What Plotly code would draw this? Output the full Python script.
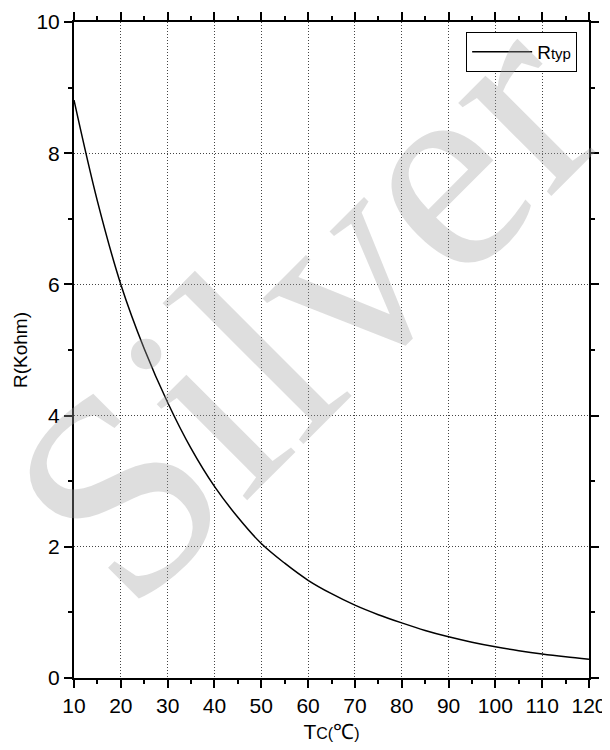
import plotly.graph_objects as go

temps = [10, 15, 20, 25, 30, 35, 40, 45, 50, 55, 60, 65, 70, 75, 80, 85, 90, 95, 100, 105, 110, 115, 120]
r_typ = [8.81, 7.27, 6.00, 5.02, 4.20, 3.50, 2.92, 2.45, 2.05, 1.75, 1.49, 1.285, 1.11, 0.965,
         0.84, 0.725, 0.628, 0.546, 0.476, 0.417, 0.366, 0.323, 0.286]
x_ticks = [10, 20, 30, 40, 50, 60, 70, 80, 90, 100, 110, 120]
y_ticks = [0, 2, 4, 6, 8, 10]

FONT = "Liberation Sans, Arial, sans-serif"

fig = go.Figure()
fig.add_trace(go.Scatter(
    x=temps, y=r_typ, mode="lines", name="R<span style='font-size:15px'>typ</span>",
    line=dict(color="black", width=1.5, shape="spline"),
))

axis_common = dict(
    automargin=False,
    showline=True, linecolor="black", linewidth=2, mirror="ticks",
    ticks="outside", ticklen=8, tickwidth=2, tickcolor="black",
    showgrid=True, gridcolor="#444444", griddash="1px,2px", gridwidth=1,
    zeroline=False,
    tickfont=dict(family=FONT, size=21, color="black"),
)

fig.update_xaxes(
    range=[10, 120], tickvals=x_ticks,
    minor=dict(dtick=5, ticks="outside", ticklen=4, tickwidth=1.5, tickcolor="black", showgrid=False),
    title=dict(text="T<span style='font-size:16px'>C(</span>℃<span style='font-size:16px'>)</span>",
               font=dict(family=FONT, size=21, color="black"), standoff=8),
    **axis_common,
)
fig.update_yaxes(
    range=[0, 10], tickvals=y_ticks,
    minor=dict(dtick=1, ticks="outside", ticklen=4, tickwidth=1.5, tickcolor="black", showgrid=False),
    title=dict(text="R(Kohm)", font=dict(family=FONT, size=19, color="black"), standoff=4),
    **axis_common,
)

fig.add_annotation(
    text="Silver", xref="paper", yref="paper", x=0.447, y=0.567,
    showarrow=False, textangle=-45,
    font=dict(family="Liberation Serif, Times New Roman, serif", size=287, color="rgba(160,160,160,0.35)"),
)

fig.update_layout(
    width=602, height=742,
    margin=dict(l=66, r=21, t=14, b=72),
    paper_bgcolor="white", plot_bgcolor="white",
    showlegend=True,
    legend=dict(
        x=0.977, y=0.985, xanchor="right", yanchor="top",
        bordercolor="black", borderwidth=1, bgcolor="white",
        font=dict(family=FONT, size=19, color="black"),
        itemwidth=60, tracegroupgap=0,
    ),
)

fig.write_html("out.html")
